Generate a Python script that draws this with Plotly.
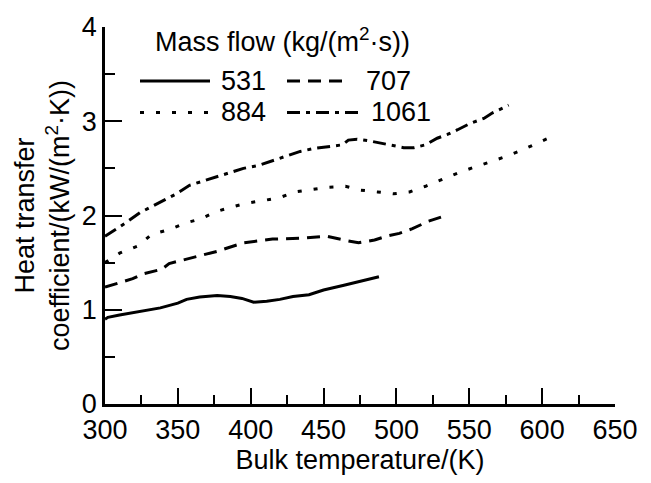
import plotly.graph_objects as go

# ---- data ----
temp_531 = [300, 302, 310, 326, 338, 350, 356, 365, 377, 386, 394, 402, 411, 420, 429, 440, 450, 464, 475, 488]
htc_531 = [0.90, 0.92, 0.945, 0.985, 1.02, 1.07, 1.11, 1.135, 1.15, 1.14, 1.12, 1.08, 1.09, 1.11, 1.14, 1.16, 1.21, 1.26, 1.30, 1.35]

temp_707 = [300, 319, 326, 339, 344, 356, 377, 395, 415, 436, 452, 467, 474, 485, 493, 502, 511, 522, 532]
htc_707 = [1.24, 1.33, 1.38, 1.43, 1.49, 1.54, 1.62, 1.71, 1.75, 1.76, 1.78, 1.73, 1.71, 1.74, 1.78, 1.81, 1.86, 1.94, 1.99]

temp_884 = [300, 310, 323, 332, 344, 355, 365, 376, 387, 397, 409, 420, 430, 442, 453, 465, 475, 487, 498,
            509, 520, 531, 542, 553, 565, 576, 587, 598, 610]
htc_884 = [1.50, 1.60, 1.68, 1.80, 1.85, 1.92, 1.96, 2.04, 2.09, 2.13, 2.16, 2.19, 2.25, 2.28, 2.30, 2.31, 2.27, 2.25, 2.23,
           2.25, 2.31, 2.38, 2.45, 2.51, 2.57, 2.63, 2.70, 2.78, 2.86]

temp_1061 = [300, 314, 324, 338, 349, 358, 372, 382, 395, 405, 420, 434, 443, 452, 463, 467, 473, 482, 489, 497,
             505, 512, 520, 528, 535, 542, 551, 560, 566, 577]
htc_1061 = [1.78, 1.92, 2.03, 2.14, 2.23, 2.32, 2.39, 2.44, 2.50, 2.53, 2.61, 2.68, 2.71, 2.73, 2.75, 2.80, 2.81, 2.79, 2.77, 2.74,
            2.72, 2.72, 2.75, 2.82, 2.86, 2.91, 2.98, 3.03, 3.09, 3.17]

series_names = ["531", "707", "884", "1061"]
legend_title = "Mass flow (kg/(m<sup>2</sup>·s))"
x_title = "Bulk temperature/(K)"
y_title = "Heat transfer<br>coefficient/(kW/(m<sup>2</sup>·K))"
x_ticks = [300, 350, 400, 450, 500, 550, 600, 650]
y_ticks = [0, 1, 2, 3, 4]

# ---- styles ----
FONT = "Liberation Sans, Arial, sans-serif"
FS = 27
LW = 3
dashes = ["solid", "13px,8px", "4px,12px", "13px,6px,4px,6px"]

xs = [temp_531, temp_707, temp_884, temp_1061]
ys = [htc_531, htc_707, htc_884, htc_1061]

fig = go.Figure()
for name, x, y, d in zip(series_names, xs, ys, dashes):
    fig.add_trace(go.Scatter(x=x, y=y, mode="lines", name=name, showlegend=False,
                             line=dict(color="black", width=LW, dash=d)))

# plot area in pixels
L, R, T, B = 105, 615, 20, 404
W, H = 651, 483

def px(xp):
    return (xp - L) / (R - L)

def py(yp):
    return (B - yp) / (B - T)

# manual legend (two columns)
legend_rows = [75, 107]
legend_items = [
    # (row, line x0, line x1, text x)
    (0, 140, 210, 219),
    (0, 287, 344, 364),
    (1, 140, 215, 219),
    (1, 287, 358, 369),
]
shapes = []
annotations = []
for (row, x0, x1, tx), name, d in zip(legend_items, series_names, dashes):
    yy = py(legend_rows[row])
    shapes.append(dict(type="line", xref="paper", yref="paper", x0=px(x0), x1=px(x1), y0=yy, y1=yy,
                       line=dict(color="black", width=LW, dash=d)))
    annotations.append(dict(xref="paper", yref="paper", x=px(tx), y=yy, text=name, showarrow=False,
                            xanchor="left", yanchor="middle", font=dict(size=FS, color="black", family=FONT)))
annotations.append(dict(xref="paper", yref="paper", x=px(153), y=py(33), text=legend_title, showarrow=False,
                        xanchor="left", yanchor="middle", font=dict(size=FS, color="black", family=FONT)))

fig.update_layout(
    width=W, height=H,
    margin=dict(l=L, r=W - R, t=T, b=H - B, pad=0),
    paper_bgcolor="white", plot_bgcolor="white",
    font=dict(family=FONT, size=FS, color="black"),
    shapes=shapes, annotations=annotations,
    showlegend=False,
)
fig.update_xaxes(
    range=[300, 650], tickvals=x_ticks, ticks="inside", ticklen=16, tickwidth=2.2, tickcolor="black",
    showline=True, linecolor="black", linewidth=2.5, showgrid=False, zeroline=False,
    minor=dict(ticks="inside", ticklen=9, tickwidth=2.2, tickcolor="black", dtick=25, showgrid=False),
    title=dict(text=x_title, font=dict(size=FS), standoff=6),
    tickfont=dict(size=FS),
)
fig.update_yaxes(
    range=[0, 4], tickvals=y_ticks, ticks="inside", ticklen=17, tickwidth=2.2, tickcolor="black",
    showline=True, linecolor="black", linewidth=2.5, showgrid=False, zeroline=False,
    minor=dict(ticks="inside", ticklen=10, tickwidth=2.2, tickcolor="black", dtick=0.5, showgrid=False),
    title=dict(text=y_title, font=dict(size=FS), standoff=5),
    tickfont=dict(size=FS),
)

fig.write_html("out.html")
